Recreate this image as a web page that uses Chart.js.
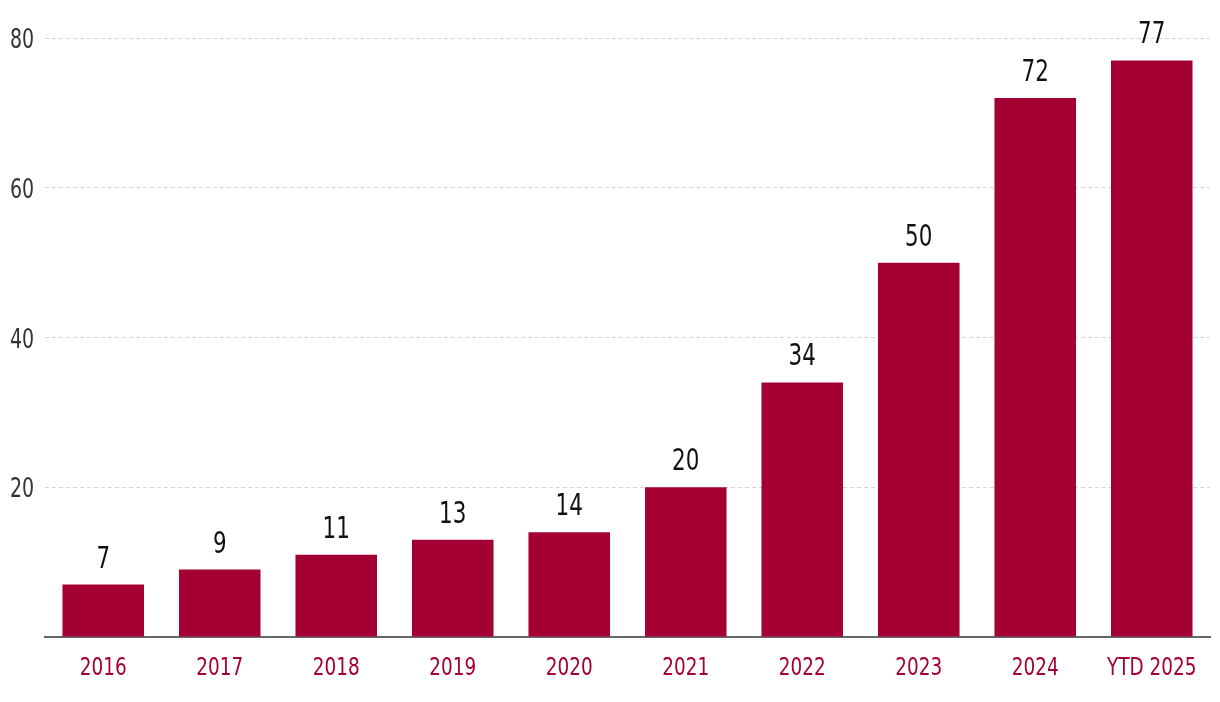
<!DOCTYPE html>
<html><head><meta charset="utf-8">
<script src="https://cdn.jsdelivr.net/npm/chart.js@4"></script>
<style>html,body{margin:0;padding:0;background:#fff}#wrap{width:1220px;height:702px}</style>
</head><body><div id="wrap"><canvas id="c"></canvas></div>
<script>
const categories = ["2016","2017","2018","2019","2020","2021","2022","2023","2024","YTD 2025"];
const values = [7, 9, 11, 13, 14, 20, 34, 50, 72, 77];
const yTicks = [0, 20, 40, 60, 80];

const FONT = "'DejaVu Sans Condensed', 'DejaVu Sans', sans-serif";
const RED = '#a50034';

// draw text horizontally condensed to mimic a narrow typeface
function narrowText(ctx, text, x, y, size, color, align, sx) {
  ctx.save();
  ctx.font = size + 'px ' + FONT;
  ctx.fillStyle = color;
  ctx.textAlign = align;
  ctx.textBaseline = 'alphabetic';
  ctx.translate(x, y);
  ctx.scale(sx, 1);
  ctx.fillText(text, 0, 0);
  ctx.restore();
}

const customText = {
  id: 'customText',
  afterDraw(chart) {
    const ctx = chart.ctx;
    const meta = chart.getDatasetMeta(0);
    const xs = chart.scales.x, ys = chart.scales.y;
    meta.data.forEach((bar, i) => {
      narrowText(ctx, String(values[i]), bar.x, bar.y - 17, 31, '#111', 'center', 0.77);
    });
    categories.forEach((c, i) => {
      narrowText(ctx, c, xs.getPixelForValue(i), 675, 25, RED, 'center', 0.82);
    });
    yTicks.forEach(v => {
      if (v === 0) return;
      narrowText(ctx, String(v), 34, ys.getPixelForValue(v) + 10, 27, '#333', 'right', 0.78);
    });
  }
};

new Chart(document.getElementById('c'), {
  type: 'bar',
  data: {
    labels: categories,
    datasets: [{ data: values, backgroundColor: RED, borderWidth: 0,
      categoryPercentage: 1, barPercentage: 0.7 }]
  },
  options: {
    responsive: true, maintainAspectRatio: false, animation: false,
    devicePixelRatio: 1,
    layout: { padding: { top: 38, right: 10, left: 0, bottom: 0 } },
    plugins: { legend: { display: false }, tooltip: { enabled: false } },
    scales: {
      x: {
        grid: { display: false, drawTicks: false },
        border: { display: true, color: '#666', width: 2 },
        ticks: { color: 'rgba(0,0,0,0)', font: { family: FONT, size: 24 }, padding: 14, maxRotation: 0, autoSkip: false },
        afterFit(s) { s.height = 65; }
      },
      y: {
        min: 0, max: 80,
        afterBuildTicks(s) { s.ticks = yTicks.map(v => ({ value: v })); },
        grid: { color: '#d6d6d6', lineWidth: 1, drawTicks: false },
        border: { display: false, dash: [4, 3] },
        ticks: { color: 'rgba(0,0,0,0)', font: { family: FONT, size: 26 }, padding: 11 },
        afterFit(s) { s.width = 45; }
      }
    }
  },
  plugins: [customText]
});
</script></body></html>
